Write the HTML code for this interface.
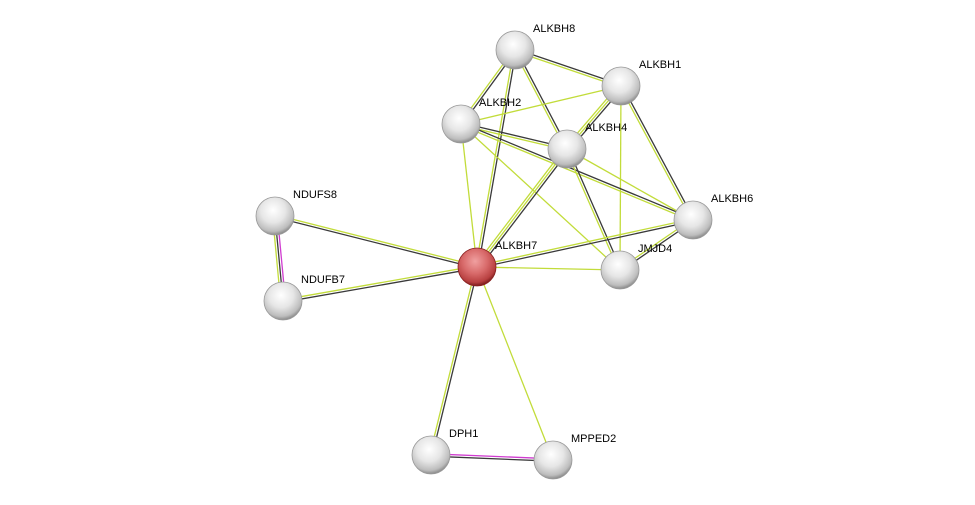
<!DOCTYPE html>
<html><head><meta charset="utf-8"><style>
html,body{margin:0;padding:0;background:#fff;}
svg{display:block;}
text{font-family:"Liberation Sans",Arial,sans-serif;font-size:11px;fill:#000;}
</style></head><body>
<svg id="s" width="975" height="505" viewBox="0 0 975 505" xmlns="http://www.w3.org/2000/svg">
<defs>
<radialGradient id="g" cx="45%" cy="35%" r="65%">
<stop offset="0" stop-color="#ffffff"/><stop offset="0.5" stop-color="#e6e6e6"/><stop offset="0.85" stop-color="#bdbdbd"/><stop offset="1" stop-color="#8a8a8a"/>
</radialGradient>
<radialGradient id="r" cx="45%" cy="35%" r="65%">
<stop offset="0" stop-color="#f0a0a0"/><stop offset="0.5" stop-color="#d86a6a"/><stop offset="0.85" stop-color="#b84040"/><stop offset="1" stop-color="#7a1c1c"/>
</radialGradient>
</defs>
<g id="edges"></g>
<g id="nodes"></g>
</svg>
<script>
var N={
ALKBH8:[515,50],ALKBH1:[621,86],ALKBH2:[461,124],ALKBH4:[567,149],ALKBH6:[693,220],
JMJD4:[620,270],ALKBH7:[477,267],NDUFS8:[275,216],NDUFB7:[283,301],DPH1:[431,455],MPPED2:[553,460]};
var C={k:"#3a3a3a",y:"#c2dc3a",m:"#d03cd0"};
var E=[
["ALKBH8","ALKBH1","ky"],["ALKBH8","ALKBH2","ky"],["ALKBH8","ALKBH4","ky"],["ALKBH8","ALKBH7","ky"],
["ALKBH1","ALKBH6","ky"],["ALKBH1","ALKBH2","y"],["ALKBH1","ALKBH4","kyy"],["ALKBH1","JMJD4","y"],
["ALKBH2","ALKBH4","ky"],["ALKBH2","ALKBH6","ky"],["ALKBH2","JMJD4","y"],["ALKBH2","ALKBH7","y"],
["ALKBH4","ALKBH7","kyy"],["ALKBH4","ALKBH6","y"],["ALKBH4","JMJD4","ky"],["ALKBH6","ALKBH7","ky"],
["ALKBH6","JMJD4","ky"],["JMJD4","ALKBH7","y"],["ALKBH7","NDUFS8","ky"],["ALKBH7","NDUFB7","ky"],
["NDUFS8","NDUFB7","mky"],["ALKBH7","DPH1","ky"],["ALKBH7","MPPED2","y"],["DPH1","MPPED2","mk"]];
var ns="http://www.w3.org/2000/svg",eg=document.getElementById("edges"),ng=document.getElementById("nodes");
E.forEach(function(e){var a=N[e[0]],b=N[e[1]],dx=b[0]-a[0],dy=b[1]-a[1],L=Math.hypot(dx,dy),px=-dy/L,py=dx/L,n=e[2].length;
for(var i=0;i<n;i++){var o=(i-(n-1)/2)*2.4;var l=document.createElementNS(ns,"line");
l.setAttribute("x1",a[0]+px*o);l.setAttribute("y1",a[1]+py*o);l.setAttribute("x2",b[0]+px*o);l.setAttribute("y2",b[1]+py*o);
l.setAttribute("stroke",C[e[2][i]]);l.setAttribute("stroke-width","1.3");eg.appendChild(l);}});
for(var k in N){var p=N[k],c=document.createElementNS(ns,"circle");c.setAttribute("cx",p[0]);c.setAttribute("cy",p[1]);c.setAttribute("r",19);
c.setAttribute("fill",k=="ALKBH7"?"url(#r)":"url(#g)");c.setAttribute("stroke",k=="ALKBH7"?"#8a2020":"#999");c.setAttribute("stroke-width","0.8");ng.appendChild(c);
var t=document.createElementNS(ns,"text");t.setAttribute("x",p[0]+18);t.setAttribute("y",p[1]-18);t.textContent=k;ng.appendChild(t);}
</script>
</body></html>
